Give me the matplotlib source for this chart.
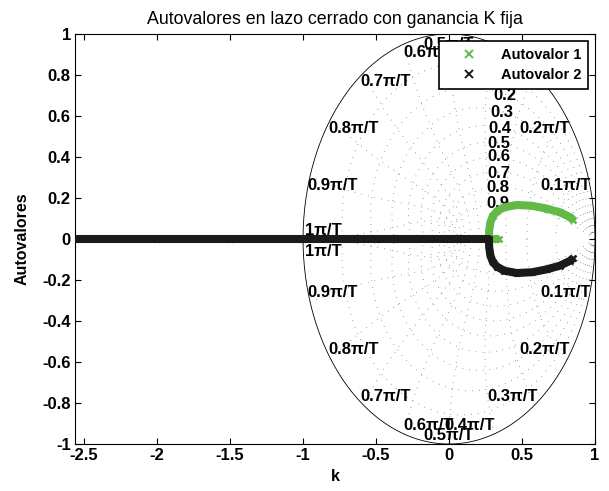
import numpy as np
import matplotlib
matplotlib.use("Agg")
import matplotlib.pyplot as plt
from matplotlib.lines import Line2D

plt.rcParams['font.family'] = ['Liberation Sans', 'DejaVu Sans']

# Closed-loop eigenvalue traces (real part, imaginary part)
eig1_re = [0.850, 0.830, 0.760, 0.670, 0.570, 0.465, 0.380, 0.330, 0.300,
           0.283, 0.275, 0.273, 0.300, 0.325, 0.345]
eig1_im = [0.093, 0.106, 0.130, 0.148, 0.162, 0.166, 0.155, 0.136, 0.112,
           0.080, 0.040, 0.000, 0.000, 0.000, 0.000]

eig2_re = [0.850, 0.830, 0.760, 0.670, 0.570, 0.465, 0.380, 0.330, 0.300,
           0.283, 0.275, 0.273, 0.000, -0.500, -1.000, -1.500, -2.000, -2.555]
eig2_im = [-0.093, -0.106, -0.130, -0.148, -0.162, -0.166, -0.155, -0.136, -0.112,
           -0.080, -0.040, 0.000, 0.000, 0.000, 0.000, 0.000, 0.000, 0.000]

series_names = ['Autovalor 1', 'Autovalor 2']
series_colors = ['#63b946', '#1a1a1a']

# z-plane grid: damping ratios and natural frequencies (in units of pi/T)
zeta_vals = [0.1, 0.2, 0.3, 0.4, 0.5, 0.6, 0.7, 0.8, 0.9]
wn_vals = [0.1, 0.2, 0.3, 0.4, 0.5, 0.6, 0.7, 0.8, 0.9, 1.0]
wn_labels = ['0.1\u03c0/T', '0.2\u03c0/T', '0.3\u03c0/T', '0.4\u03c0/T', '0.5\u03c0/T',
             '0.6\u03c0/T', '0.7\u03c0/T', '0.8\u03c0/T', '0.9\u03c0/T', '1\u03c0/T']
zeta_labels = ['0.1', '0.2', '0.3', '0.4', '0.5', '0.6', '0.7', '0.8', '0.9']

# label anchor points for the grid annotations
wn_lab_upper = [(0.797, 0.262), (0.654, 0.539), (0.437, 0.766), (0.14, 0.91),
                (0.0, 0.948), (-0.14, 0.91), (-0.438, 0.766), (-0.654, 0.539),
                (-0.80, 0.262), (-0.863, 0.041)]
wn_lab_lower = [(0.797, -0.262), (0.654, -0.539), (0.437, -0.766), (0.14, -0.91),
                (0.0, -0.958), (-0.14, -0.91), (-0.438, -0.766), (-0.654, -0.539),
                (-0.80, -0.262), (-0.863, -0.061)]
zeta_lab_pos = [(0.39, 0.78), (0.384, 0.70), (0.36, 0.616), (0.35, 0.54), (0.34, 0.467),
                (0.34, 0.40), (0.34, 0.32), (0.332, 0.25), (0.332, 0.174)]

xticks = [-2.5, -2, -1.5, -1, -0.5, 0, 0.5, 1]
xtick_labels = ['-2.5', '-2', '-1.5', '-1', '-0.5', '0', '0.5', '1']
yticks = [-1, -0.8, -0.6, -0.4, -0.2, 0, 0.2, 0.4, 0.6, 0.8, 1]
ytick_labels = ['-1', '-0.8', '-0.6', '-0.4', '-0.2', '0', '0.2', '0.4', '0.6', '0.8', '1']

fig = plt.figure(figsize=(6.09, 4.91), dpi=100)
ax = fig.add_axes([0.1232, 0.0957, 0.8538, 0.8351])

grid_kw = dict(color='0.25', lw=0.7, ls=(0, (0.5, 6.5)), zorder=1)

# unit circle
t = np.linspace(0, 2 * np.pi, 400)
ax.plot(np.cos(t), np.sin(t), color='black', lw=0.6, zorder=1)

# constant damping curves
th = np.linspace(0, np.pi, 300)
for z in zeta_vals:
    m = z / np.sqrt(1 - z ** 2)
    c = np.exp(th * (-m + 1j))
    ax.plot(c.real, c.imag, **grid_kw)
    ax.plot(c.real, -c.imag, **grid_kw)

# constant natural frequency curves
zz = np.linspace(0, 1, 300)
for w in wn_vals:
    wn = w * np.pi
    c = np.exp(wn * (-zz + 1j * np.sqrt(1 - zz ** 2)))
    ax.plot(c.real, c.imag, **grid_kw)
    ax.plot(c.real, -c.imag, **grid_kw)

lab_kw = dict(fontsize=12, fontweight='bold', ha='center', va='center', zorder=2)
for lab, (x, y) in zip(wn_labels, wn_lab_upper):
    ax.text(x, y, lab, **lab_kw)
for lab, (x, y) in zip(wn_labels, wn_lab_lower):
    ax.text(x, y, lab, **lab_kw)
for lab, (x, y) in zip(zeta_labels, zeta_lab_pos):
    ax.text(x, y, lab, **lab_kw)

# eigenvalue traces: dense 'x' markers forming a thick band
for re, im, col in [(eig1_re, eig1_im, series_colors[0]), (eig2_re, eig2_im, series_colors[1])]:
    ax.plot(re, im, color=col, lw=5.8, solid_capstyle='butt', solid_joinstyle='round', zorder=3)
    ax.plot(re, im, ls='none', marker='x', ms=5.0, mew=1.8, color=col, zorder=3)

handles = [Line2D([], [], ls='none', marker='x', ms=6, mew=1.4, color=c) for c in series_colors]
leg = ax.legend(handles, series_names, loc='upper right', fancybox=False, framealpha=1,
                edgecolor='black', prop=dict(size=10.5, weight='bold'),
                handlelength=3.3, handletextpad=0.5, borderpad=0.45, labelspacing=0.45,
                borderaxespad=0.5)
leg.get_frame().set_linewidth(1.2)
leg.set_zorder(5)

ax.set_xlim(-2.562, 1)
ax.set_ylim(-1, 1)
ax.set_xticks(xticks)
ax.set_xticklabels(xtick_labels)
ax.set_yticks(yticks)
ax.set_yticklabels(ytick_labels)
ax.tick_params(direction='in', length=4, width=0.8, top=True, right=True, labelsize=12, pad=3)
for lab in ax.get_xticklabels() + ax.get_yticklabels():
    lab.set_fontweight('bold')
for s in ax.spines.values():
    s.set_linewidth(0.8)

ax.set_title('Autovalores en lazo cerrado con ganancia K fija', fontsize=12.8, pad=7)
ax.set_xlabel('k', fontsize=11.5, fontweight='bold', labelpad=4)
ax.set_ylabel('Autovalores', fontsize=11.5, fontweight='bold', labelpad=9)

fig.savefig('out.png', dpi=100)
